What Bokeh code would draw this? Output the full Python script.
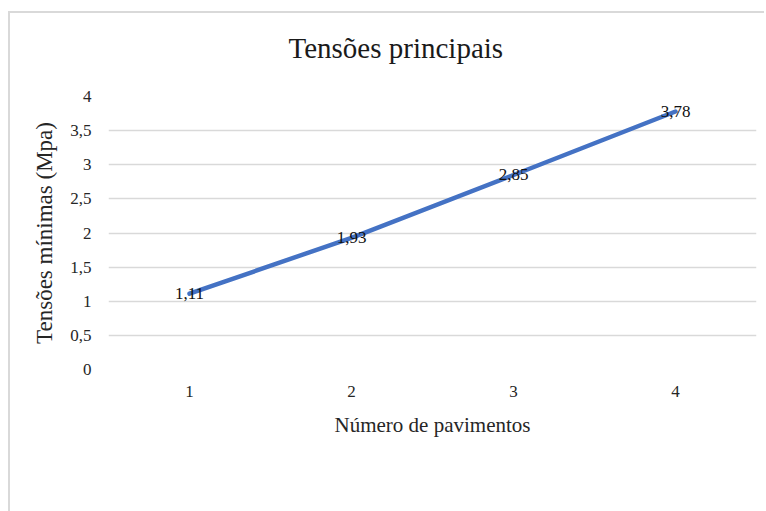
from bokeh.plotting import figure
from bokeh.models import ColumnDataSource, Legend, LegendItem, FixedTicker, CustomJSTickFormatter, Range1d, Title
from bokeh.core.properties import value
from bokeh.embed import file_html
from bokeh.resources import INLINE

pavimentos = [1, 2, 3, 4]
tensoes = [1.11, 1.93, 2.85, 3.78]
y_ticks = [0, 0.5, 1, 1.5, 2, 2.5, 3, 3.5, 4]
labels = [f"{v:.2f}".replace(".", ",") for v in tensoes]

SERIF = "Liberation Serif"

src = ColumnDataSource(dict(x=pavimentos, y=tensoes, lab=labels))

p = figure(frame_width=648, frame_height=273, output_backend="svg", toolbar_location=None,
           x_range=Range1d(0.5, 4.5), y_range=Range1d(0, 4),
           min_border_left=98, min_border_right=8, min_border_top=83, min_border_bottom=0,
           title="Tensões principais",
           styles={"margin-left": "8px", "margin-top": "11px",
                   "border-left": "2px solid #d9d9d9", "border-top": "2px solid #d9d9d9"})

p.title.align = "left"
p.title.offset = 180
p.title.text_font = SERIF
p.title.text_font_size = "29px"
p.title.text_font_style = "normal"
p.title.text_color = "#1a1a1a"
p.title.standoff = 10

# spacer between title and plot area
p.add_layout(Title(text=" ", text_font_size="1px", standoff=25), "above")

p.outline_line_color = None
p.xgrid.grid_line_color = None
p.ygrid.grid_line_color = "#d9d9d9"
p.ygrid.grid_line_width = 1.5

p.yaxis.ticker = FixedTicker(ticks=y_ticks)
p.yaxis.formatter = CustomJSTickFormatter(code="return tick.toString().replace('.', ',');")
p.xaxis.ticker = FixedTicker(ticks=pavimentos)

for ax in (p.xaxis[0], p.yaxis[0]):
    ax.axis_line_color = None
    ax.major_tick_line_color = None
    ax.minor_tick_line_color = None
    ax.major_label_text_font = SERIF
    ax.major_label_text_font_size = "17px"
    ax.major_label_text_color = "#262626"
    ax.axis_label_text_font = SERIF
    ax.axis_label_text_font_style = "normal"
    ax.axis_label_text_color = "#262626"

p.xaxis.axis_label = "Número de pavimentos"
p.yaxis.axis_label = "Tensões mínimas (Mpa)"
p.xaxis.axis_label_text_font_size = "21px"
p.yaxis.axis_label_text_font_size = "23px"
p.xaxis.major_label_standoff = 10
p.yaxis.major_label_standoff = 11
p.xaxis.axis_label_standoff = 13
p.yaxis.axis_label_standoff = 10

line = p.line("x", "y", source=src, line_color="#4472C4", line_width=4.5, line_cap="round")
p.text("x", "y", text="lab", source=src, text_font=value(SERIF), text_font_size="17px",
       text_align="center", text_baseline="middle", text_color="#111111")

legend = Legend(items=[LegendItem(label="Série1", renderers=[line])],
                orientation="horizontal", location="center",
                label_text_font=SERIF, label_text_font_size="18px", label_text_color="#262626",
                glyph_width=46, label_standoff=1, label_width=119, border_line_color=None,
                background_fill_alpha=0, margin=16, padding=0)
p.add_layout(legend, "below")

open("out.html", "w").write(file_html(p, INLINE))
